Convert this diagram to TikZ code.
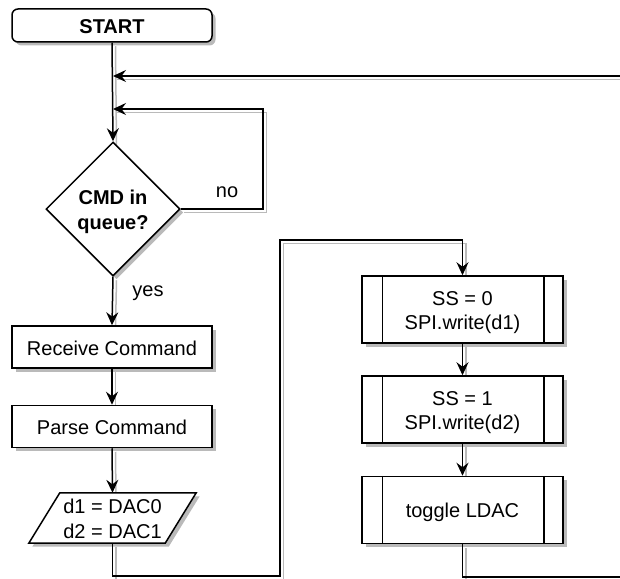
\documentclass[tikz,border=0pt]{standalone}
\usepackage{fontspec}
\setmainfont{Liberation Sans}
\usetikzlibrary{shapes.geometric,shadows,arrows.meta}

\pgfdeclarelayer{shade}
\pgfdeclarelayer{back}
\pgfdeclarelayer{front}
\pgfsetlayers{shade,back,main,front}

\definecolor{shadowgray}{HTML}{BABABA}

% every text line gets the same height and depth, so lines sit evenly in their boxes
\newcommand\lineht{\rule[-4pt]{0pt}{24pt}}

\tikzset{
  shadowed/.style={drop shadow={shadow xshift=3.5pt,shadow yshift=-3.5pt,fill=shadowgray,opacity=1}},
  block/.style={draw,fill=white,line width=1.5pt,shadowed,inner sep=0pt,align=center,
    font=\fontsize{20}{24}\selectfont},
  terminal/.style={block,rounded corners=6pt,minimum width=200pt,minimum height=33pt,
    font=\bfseries\fontsize{20}{24}\selectfont},
  proc/.style={block,minimum width=200pt,minimum height=42pt},
  subproc/.style={block,minimum width=201pt,minimum height=67pt},
  decision/.style={block,diamond,aspect=1,minimum width=134pt,minimum height=134pt,
    font=\bfseries\fontsize{20}{23.5}\selectfont},
  iotext/.style={rectangle,inner sep=0pt,minimum width=136pt,minimum height=50pt,align=center,
    font=\fontsize{20}{23.5}\selectfont},
  iobox/.style={draw,fill=white,line width=1.5pt,line join=miter,shadowed},
  flow/.style={line width=1.5pt,-{Stealth[length=13pt,width=12pt,inset=4.5pt]}},
  flowshadow/.style={draw=shadowgray,arrows=-,transform canvas={shift={(3.5pt,-3.5pt)}}},
  lbl/.style={inner sep=0pt,font=\fontsize{20}{24}\selectfont},
}

% a connector: its grey offset shadow goes under the boxes, the line itself on top
\newcommand\connect[2][]{%
  \begin{pgfonlayer}{shade}\draw[flow,#1,flowshadow] #2;\end{pgfonlayer}%
  \begin{pgfonlayer}{front}\draw[flow,#1] #2;\end{pgfonlayer}}

\begin{document}
\begin{tikzpicture}[x=1pt,y=-1pt]
  \useasboundingbox (0,0) rectangle (620,578);

  % left column
  \node[terminal] (start) at (112,25.5) {\lineht START};
  \node[decision] (cmd) at (113,209) {\lineht CMD in\\\lineht queue?};
  \node[proc] (recv) at (112,347) {\lineht Receive Command};
  \node[proc] (parse) at (112,426.5) {\lineht Parse Command};
  \node[iotext] (io) at (112.5,518) {\lineht d1 = DAC0\\\lineht d2 = DAC1};
  \begin{pgfonlayer}{back}
    \draw[iobox] ([xshift=15.5pt]io.north west) -- ([xshift=15.5pt]io.north east)
      -- ([xshift=-15.5pt]io.south east) -- ([xshift=-15.5pt]io.south west) -- cycle;
  \end{pgfonlayer}

  % right column: predefined processes
  \node[subproc] (ss0) at (462.5,309.5) {\lineht SS = 0\\\lineht SPI.write(d1)};
  \node[subproc] (ss1) at (462.5,409.5) {\lineht SS = 1\\\lineht SPI.write(d2)};
  \node[subproc] (ldac) at (462.5,510) {\lineht toggle LDAC};
  \foreach \n in {ss0,ss1,ldac}
    \draw[line width=1.5pt] ([xshift=21pt]\n.north west) -- ([xshift=21pt]\n.south west)
      ([xshift=-20pt]\n.north east) -- ([xshift=-20pt]\n.south east);

  % labels
  \node[lbl] (nolbl) at (227,192) {no};
  \node[lbl] (yeslbl) at (148,293) {yes};

  % routing points
  \coordinate (loopin) at (620,76);
  \coordinate (j1) at (113,76);
  \coordinate (j2) at (113,109);
  \coordinate (nocorner) at (263,109);
  \coordinate (r1) at (280,576);
  \coordinate (r2) at (280,240);
  \coordinate (loopout) at (620,577);

  % connectors
  \connect{(start.south) -- (cmd.north)}
  \connect{(loopin) -- (j1)}
  \connect{(cmd.east) -| (nocorner) -- (j2)}
  \connect{(cmd.south) -- (recv.north)}
  \connect{(recv.south) -- (parse.north)}
  \connect{(parse.south) -- (io.north)}
  \connect{(io.south) |- (r1) -- (r2) -| (ss0.north)}
  \connect{(ss0.south) -- (ss1.north)}
  \connect{(ss1.south) -- (ldac.north)}
  \connect[-]{(ldac.south) |- (loopout)}
\end{tikzpicture}
\end{document}
